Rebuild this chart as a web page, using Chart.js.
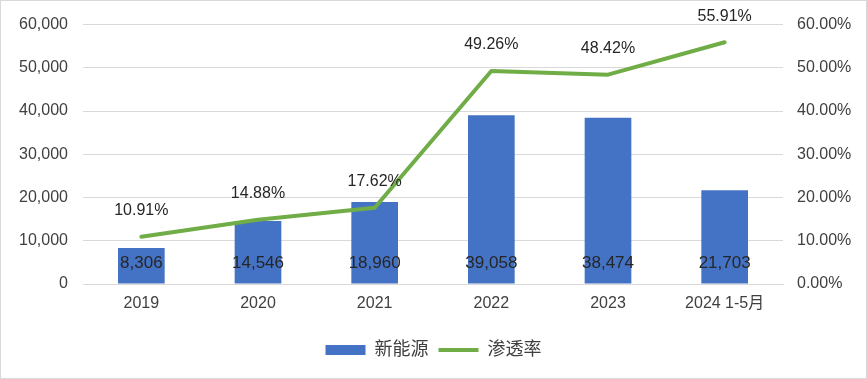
<!DOCTYPE html>
<html>
<head>
<meta charset="utf-8">
<script src="https://cdn.jsdelivr.net/npm/chart.js@4/dist/chart.umd.min.js"></script>
<style>
  html, body { margin: 0; padding: 0; background: #fff; }
  #wrap { width: 867px; height: 379px; }
</style>
</head>
<body>
<div id="wrap"><canvas id="chart" width="867" height="379"></canvas></div>
<script>
// data
const categories = ['2019', '2020', '2021', '2022', '2023', '2024 1-5月'];
const newEnergy = [8306, 14546, 18960, 39058, 38474, 21703];
const penetration = [10.91, 14.88, 17.62, 49.26, 48.42, 55.91];

const FONT = '"Liberation Sans", Arial, "Noto Sans CJK SC", sans-serif';

// white background + light frame round the picture
const framePlugin = {
  id: 'frame',
  beforeDraw(chart) {
    const ctx = chart.ctx;
    ctx.save();
    ctx.fillStyle = '#fff';
    ctx.fillRect(0, 0, chart.width, chart.height);
    ctx.restore();
  },
  afterDraw(chart) {
    const ctx = chart.ctx;
    ctx.save();
    ctx.strokeStyle = '#d9d9d9';
    ctx.lineWidth = 1;
    ctx.strokeRect(0.5, 0.5, chart.width - 1, chart.height - 1);
    ctx.restore();
  }
};

// value labels: bars near the base, line above the points
const labelPlugin = {
  id: 'valueLabels',
  afterDatasetsDraw(chart) {
    const ctx = chart.ctx;
    ctx.save();
    ctx.textAlign = 'center';
    ctx.textBaseline = 'middle';
    ctx.fillStyle = '#262626';

    const barMeta = chart.getDatasetMeta(0);
    const base = chart.scales.y.getPixelForValue(0);
    ctx.font = '17px ' + FONT;
    barMeta.data.forEach((el, i) => {
      ctx.fillText(newEnergy[i].toLocaleString('en-US'), el.x, base - 21);
    });

    const lineMeta = chart.getDatasetMeta(1);
    ctx.font = '16px ' + FONT;
    lineMeta.data.forEach((el, i) => {
      ctx.fillText(penetration[i].toFixed(2) + '%', el.x, el.y - 26);
    });
    ctx.restore();
  }
};

new Chart(document.getElementById('chart'), {
  type: 'bar',
  data: {
    labels: categories,
    datasets: [
      {
        label: '新能源',
        data: newEnergy,
        backgroundColor: '#4472C4',
        borderWidth: 0,
        barPercentage: 0.4,
        categoryPercentage: 1,
        yAxisID: 'y',
        order: 2,
        pointStyle: 'rect'
      },
      {
        type: 'line',
        label: '渗透率',
        data: penetration,
        borderColor: '#70AD47',
        backgroundColor: '#70AD47',
        borderWidth: 4,
        borderCapStyle: 'round',
        borderJoinStyle: 'round',
        pointRadius: 0,
        tension: 0,
        yAxisID: 'y1',
        order: 1,
        pointStyle: 'line'
      }
    ]
  },
  options: {
    responsive: false,
    animation: false,
    layout: { padding: { top: 24, bottom: 10, left: 0, right: 0 } },
    plugins: {
      tooltip: { enabled: false },
      legend: {
        position: 'bottom',
        labels: {
          usePointStyle: true,
          pointStyleWidth: 40,
          boxHeight: 10,
          padding: 10,
          color: '#404040',
          font: { family: FONT, size: 18 },
          sort: (a, b) => a.datasetIndex - b.datasetIndex
        }
      }
    },
    scales: {
      x: {
        grid: { display: false, drawTicks: false },
        border: { display: true, color: '#d9d9d9' },
        ticks: { color: '#404040', font: { family: FONT, size: 16 }, padding: 10, maxRotation: 0 },
        afterFit(s) { s.height = 47; }
      },
      y: {
        position: 'left',
        min: 0,
        max: 60000,
        grid: { color: '#d9d9d9', drawTicks: false },
        border: { display: false },
        ticks: {
          stepSize: 10000,
          padding: 15,
          color: '#404040',
          font: { family: FONT, size: 16 },
          callback: v => v.toLocaleString('en-US')
        },
        afterFit(s) { s.width = 83; }
      },
      y1: {
        position: 'right',
        min: 0,
        max: 60,
        grid: { display: false, drawTicks: false },
        border: { display: false },
        ticks: {
          stepSize: 10,
          padding: 14,
          color: '#404040',
          font: { family: FONT, size: 16 },
          callback: v => v.toFixed(2) + '%'
        },
        afterFit(s) { s.width = 84; }
      }
    }
  },
  plugins: [framePlugin, labelPlugin]
});
</script>
</body>
</html>
